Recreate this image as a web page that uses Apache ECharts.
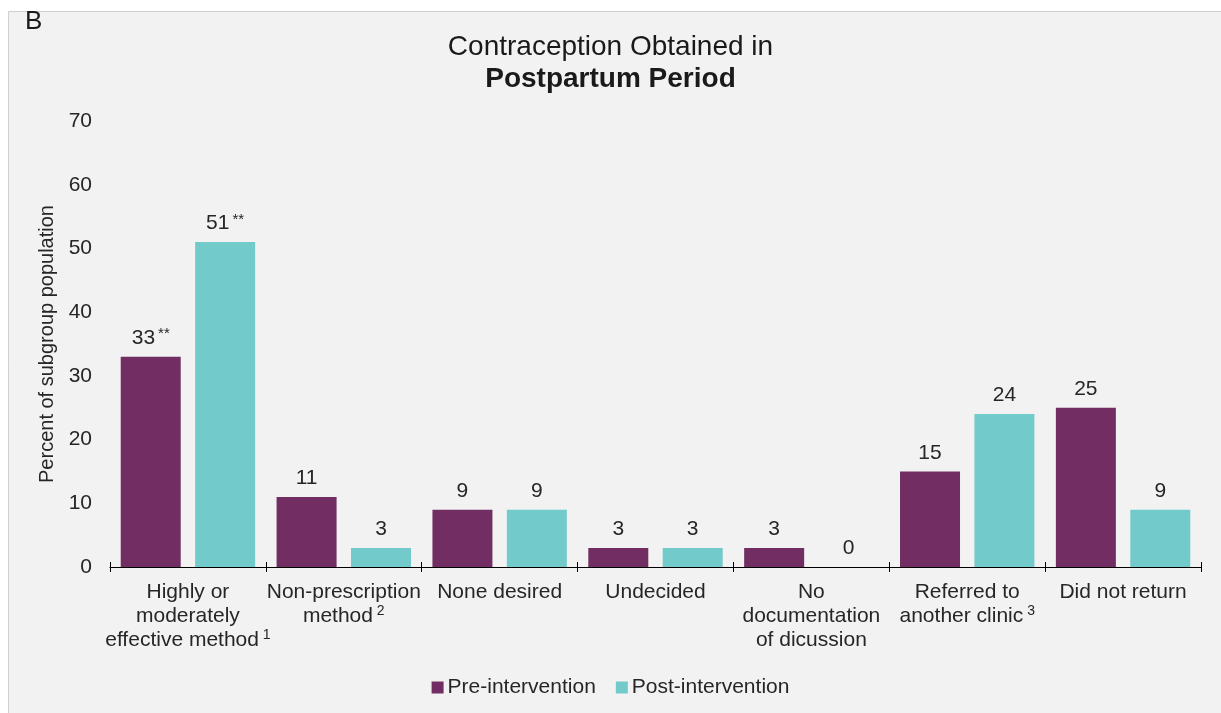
<!DOCTYPE html>
<html>
<head>
<meta charset="utf-8">
<script src="https://cdn.jsdelivr.net/npm/echarts@6/dist/echarts.min.js"></script>
<style>
html,body{margin:0;padding:0;background:#ffffff;}
#chart{width:1221px;height:713px;}
</style>
</head>
<body>
<div id="chart"></div>
<script>
const categories = ['Highly or\nmoderately\neffective method', 'Non-prescription\nmethod', 'None desired', 'Undecided', 'No\ndocumentation\nof dicussion', 'Referred to\nanother clinic', 'Did not return'];
const footnotes = ['1', '2', '', '', '', '3', ''];
const preValues = [33, 11, 9, 3, 3, 15, 25];
const postValues = [51, 3, 9, 3, 0, 24, 9];
const preMarks = ['**', '', '', '', '', '', ''];
const postMarks = ['**', '', '', '', '', '', ''];
const yTicks = [0, 10, 20, 30, 40, 50, 60, 70];

const chart = echarts.init(document.getElementById('chart'));
const textColor = '#262626';
const font = 'Liberation Sans, Arial, sans-serif';

function valueLabel(marks) {
  return {
    show: true,
    position: 'top',
    distance: 8,
    formatter: p => marks[p.dataIndex] ? '{v|' + p.value + '}{s|' + marks[p.dataIndex] + '}' : '{v|' + p.value + '}',
    rich: {
      v: {fontSize: 21, color: textColor, fontFamily: font},
      s: {fontSize: 15, color: textColor, fontFamily: font, verticalAlign: 'top', padding: [0, 0, 7, 3]}
    }
  };
}

chart.setOption({
  backgroundColor: 'transparent',
  animation: false,
  graphic: [
    {type: 'rect', shape: {x: 8.5, y: 11.5, width: 1240, height: 720}, style: {fill: '#f2f2f2', stroke: '#cfcfcf', lineWidth: 1}, z: -10},
    {type: 'text', left: 25, top: 9, style: {text: 'B', fontSize: 26, fill: '#1a1a1a', fontFamily: font}}
  ],
  title: {
    text: '{n|Contraception Obtained in}\n{b|Postpartum Period}',
    left: 'center',
    top: 26,
    textStyle: {
      fontWeight: 'normal',
      rich: {
        n: {fontSize: 28, fontWeight: 'normal', color: '#1a1a1a', fontFamily: font, lineHeight: 32},
        b: {fontSize: 28, fontWeight: 'bold', color: '#1a1a1a', fontFamily: font, lineHeight: 32}
      }
    }
  },
  legend: {
    bottom: 10,
    left: 'center',
    itemWidth: 12,
    itemHeight: 12,
    itemGap: 20,
    icon: 'rect',
    textStyle: {fontSize: 21, color: textColor, fontFamily: font, padding: [0, 0, 0, -1]},
    data: ['Pre-intervention', 'Post-intervention']
  },
  grid: {left: 110, right: 20, top: 121, bottom: 146},
  xAxis: [{
    type: 'category',
    data: categories,
    axisLine: {lineStyle: {color: '#000', width: 1.2}},
    axisTick: {show: true, length: 5, lineStyle: {color: '#000'}},
    axisLabel: {
      interval: 0,
      margin: 13,
      color: textColor,
      fontSize: 21,
      fontFamily: font,
      lineHeight: 24,
      formatter: (v, i) => {
        const lines = v.split('\n');
        return lines.map((l, k) => (k === lines.length - 1 && footnotes[i]) ? '{t|' + l + '}{sup|' + ' ' + footnotes[i] + '}' : '{t|' + l + '}').join('\n');
      },
      rich: {
        t: {fontSize: 21, color: textColor, fontFamily: font, lineHeight: 24},
        sup: {fontSize: 14, color: textColor, fontFamily: font, verticalAlign: 'top', lineHeight: 24, padding: [0, 0, 9, 0]}
      }
    }
  }, {
    type: 'category',
    data: categories,
    position: 'bottom',
    axisLine: {show: false},
    axisTick: {show: true, inside: true, length: 5, lineStyle: {color: '#000'}},
    axisLabel: {show: false},
    splitLine: {show: false}
  }],
  yAxis: {
    type: 'value',
    min: 0,
    max: 70,
    interval: 10,
    name: 'Percent of subgroup population',
    nameLocation: 'middle',
    nameGap: 53,
    nameRotate: 90,
    nameTextStyle: {fontSize: 20, color: textColor, fontFamily: font},
    axisLine: {show: false},
    axisTick: {show: false},
    splitLine: {show: false},
    axisLabel: {
      margin: 18,
      color: textColor,
      fontSize: 21,
      fontFamily: font,
      formatter: v => yTicks.includes(v) ? String(v) : ''
    }
  },
  series: [
    {
      name: 'Pre-intervention',
      type: 'bar',
      data: preValues,
      barWidth: 60,
      barGap: '24%',
      itemStyle: {color: '#722e62'},
      label: valueLabel(preMarks)
    },
    {
      name: 'Post-intervention',
      type: 'bar',
      data: postValues,
      barWidth: 60,
      itemStyle: {color: '#72cacb'},
      label: valueLabel(postMarks)
    }
  ]
});
</script>
</body>
</html>
